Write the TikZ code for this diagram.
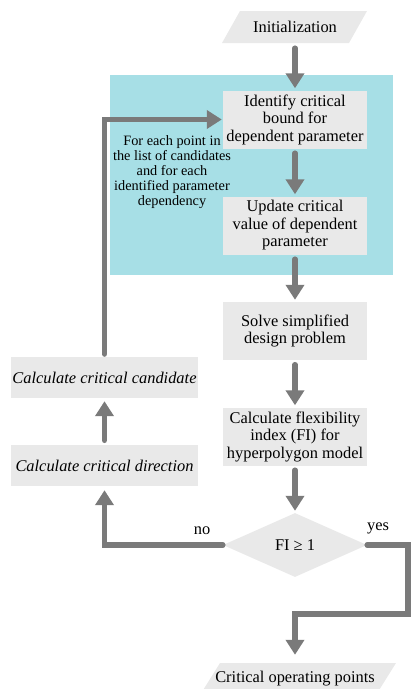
\documentclass[tikz,border=0pt]{standalone}
\usepackage{fontspec}
\setmainfont{Liberation Serif}
\usepackage{xcolor}
\usetikzlibrary{shapes.geometric,arrows.meta,positioning,calc}
\definecolor{loopBg}{HTML}{A7DFE6}
\definecolor{boxFill}{HTML}{E9E9E9}
\definecolor{flowG}{HTML}{7A7A7A}

\begin{document}
\begin{tikzpicture}[
  x=1pt,y=-1pt,
  font=\fontsize{16.4}{17.5}\selectfont,
  every node/.style={align=center},
  proc/.style={fill=boxFill,inner sep=0pt,minimum width=144pt,minimum height=58pt},
  side/.style={fill=boxFill,inner sep=0pt,minimum width=187pt,minimum height=41pt,
               font=\fontsize{16.4}{17.5}\selectfont\itshape},
  decide/.style={diamond,fill=boxFill,inner sep=0pt,minimum width=144pt,minimum height=64pt},
  io/.style={inner sep=0pt,minimum height=32pt},
  flow/.style={line width=5.5pt,flowG,line cap=round,-{Triangle[width=18pt,length=15pt]}}
]
\useasboundingbox (0,0) rectangle (413,689);

% Loop area
\fill[loopBg] (110,75) rectangle (393,275);
\node[font=\fontsize{14.3}{15}\selectfont] (note) at (172,172)
  {For each point in\\the list of candidates\\and for each\\identified parameter\\dependency};

% Input / output
\fill[boxFill] (222,43) -- (240,11) -- (367,11) -- (349,43) -- cycle;
\node[io] (init) at (295,27) {Initialization};
\fill[boxFill] (200,695) -- (220,663) -- (396,663) -- (376,695) -- cycle;
\node[io] (out) at (295,679) {Critical operating points};

% Main column
\node[proc] (bound) at (295,119.5) {Identify critical\\bound for\\dependent parameter};
\node[proc] (update) at (295,225.5) {Update critical\\value of dependent\\parameter};
\node[proc] (solve) at (295,331) {Solve simplified\\design problem};
\node[proc] (flexi) at (295,436.5) {Calculate flexibility\\index (FI) for\\hyperpolygon model};
\node[decide] (check) at (295,545) {FI ≥ 1};

% Side column
\node[side] (cand) at (104.5,377.5) {Calculate critical candidate};
\node[side] (cdir) at (104.5,465.5) {Calculate critical direction};

% Arrows
\draw[flow,shorten <=5pt,shorten >=2pt] (init) -- (bound);
\draw[flow,shorten <=4.5pt,shorten >=2pt] (bound) -- (update);
\draw[flow,shorten <=4.5pt,shorten >=2pt] (update) -- (solve);
\draw[flow,shorten <=4.5pt,shorten >=2pt] (solve) -- (flexi);
\draw[flow,shorten <=4.5pt,shorten >=2pt] (flexi) -- (check);
\draw[flow,shorten >=4pt] (check.west) -| (cdir.south);
\draw[flow,shorten <=4.5pt,shorten >=3pt] (cdir) -- (cand);
\draw[flow,shorten <=2.75pt,shorten >=1pt] (cand.north) |- (bound.west);
\coordinate (yesTurn) at (408,614);
\draw[flow,shorten >=8pt] (check.east) -| (yesTurn) -| (out.north);

% Branch labels
\node (no) at (202,531) {no};
\node (yes) at (378,528) {yes};
\end{tikzpicture}
\end{document}
